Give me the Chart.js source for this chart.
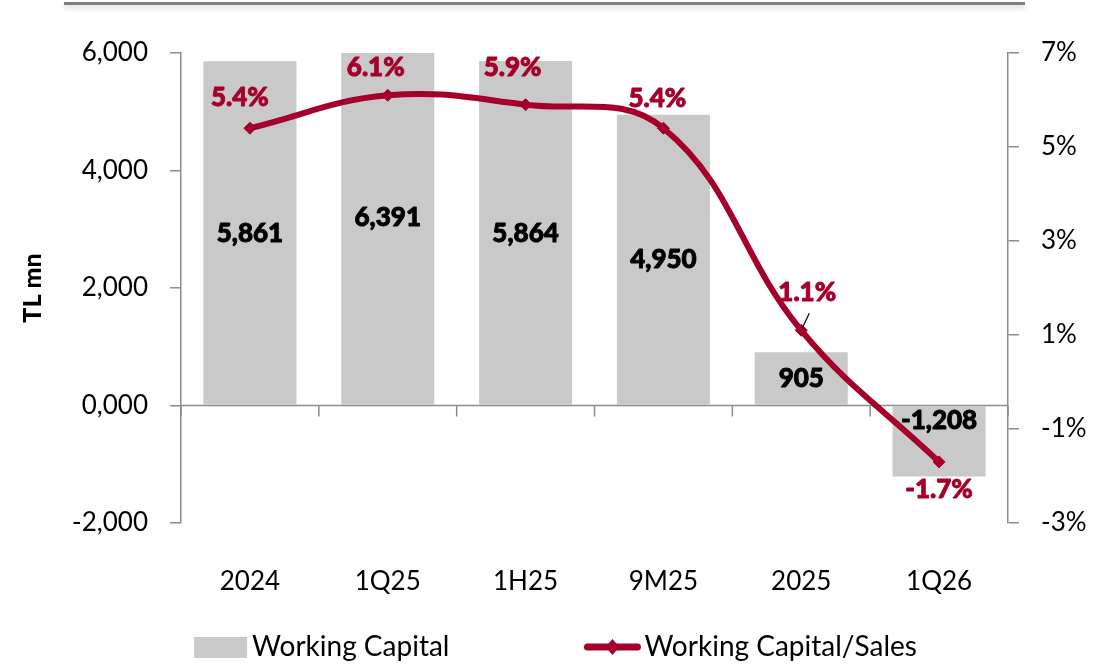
<!DOCTYPE html>
<html><head><meta charset="utf-8">
<script src="https://cdn.jsdelivr.net/npm/chart.js@4.4.1/dist/chart.umd.min.js"></script>
<style>
html,body{margin:0;padding:0;background:#fff;}
#wrap{position:relative;width:1115px;height:667px;overflow:hidden;}
#topline{position:absolute;left:64px;top:2px;width:961px;height:3px;background:#7f7f7f;box-shadow:0 3px 5px rgba(0,0,0,0.18);}
canvas{position:absolute;left:0;top:0;}
</style></head><body>
<div id="wrap"><div id="topline"></div><canvas id="c" width="1115" height="667"></canvas></div>
<script>
// ---- data ----
const categories = ['2024','1Q25','1H25','9M25','2025','1Q26'];
const workingCapital = [5861, 6391, 5864, 4950, 905, -1208];
const wcToSales = [5.4, 6.1, 5.9, 5.4, 1.1, -1.7];
const leftTickValues = [-2000, 0, 2000, 4000, 6000];
const rightTickValues = [-3, -1, 1, 3, 5, 7];
const seriesNames = ['Working Capital', 'Working Capital/Sales'];

// ---- style ----
const RED = '#A5002A';
const BAR = '#C9C9C9';
const AXIS = '#8C8C8C';
const FONT = 'Lato';
const barLabelMode = ['center','center','center','center','center','base'];
const lineLabelDx = [-10, -12, -13, -6, 6, 0];
const lineLabelDy = [-31, -28, -37, -30, -38, 28];

const fmtThousands = v => v === 0 ? '0,000' : Number(v).toLocaleString('en-US');

const zeroAxisPlugin = {
  id: 'zeroAxis',
  beforeDatasetsDraw(chart) {
    const {ctx, scales: {x, y}} = chart;
    const a = chart.chartArea;
    const y0 = y.getPixelForValue(0);
    ctx.save();
    ctx.strokeStyle = AXIS; ctx.lineWidth = 1.5;
    ctx.beginPath();
    ctx.moveTo(a.left, y0); ctx.lineTo(a.right, y0);
    const n = categories.length;
    for (let i = 0; i <= n; i++) {
      let bx;
      if (i === 0) bx = a.left; else if (i === n) bx = a.right;
      else bx = (x.getPixelForValue(i - 1) + x.getPixelForValue(i)) / 2;
      ctx.moveTo(bx, y0); ctx.lineTo(bx, y0 + 11);
    }
    ctx.stroke();
    ctx.restore();
  }
};

const labelsPlugin = {
  id: 'valueLabels',
  afterDatasetsDraw(chart) {
    const {ctx, scales: {y}} = chart;
    const barMeta = chart.getDatasetMeta(1);
    const lineMeta = chart.getDatasetMeta(0);
    ctx.save();
    ctx.textAlign = 'center'; ctx.textBaseline = 'middle';
    ctx.font = `900 26px ${FONT}`;
    ctx.lineWidth = 0.9; ctx.lineJoin = 'round';
    ctx.fillStyle = '#000'; ctx.strokeStyle = '#000';
    barMeta.data.forEach((bar, i) => {
      const v = workingCapital[i];
      let ty = barLabelMode[i] === 'base' ? y.getPixelForValue(0) + 15 : y.getPixelForValue(v / 2);
      ctx.fillText(fmtThousands(v), bar.x, ty);
      ctx.strokeText(fmtThousands(v), bar.x, ty);
    });
    ctx.fillStyle = RED; ctx.strokeStyle = RED;
    lineMeta.data.forEach((pt, i) => {
      const tx = pt.x + lineLabelDx[i], ty = pt.y + lineLabelDy[i];
      const t = wcToSales[i].toFixed(1) + '%';
      ctx.fillText(t, tx, ty);
      ctx.strokeText(t, tx, ty);
      if (i === 4) {
        ctx.save(); ctx.strokeStyle = '#000'; ctx.lineWidth = 1.2;
        ctx.beginPath(); ctx.moveTo(pt.x + 8, pt.y - 17); ctx.lineTo(pt.x + 1, pt.y - 2); ctx.stroke();
        ctx.restore();
      }
    });
    ctx.restore();
  }
};

const legendPlugin = {
  id: 'customLegend',
  afterDraw(chart) {
    const ctx = chart.ctx;
    const cy = 647;
    ctx.save();
    ctx.font = `28px ${FONT}`;
    ctx.textBaseline = 'middle'; ctx.textAlign = 'left';
    const w1 = 53 + 5 + ctx.measureText(seriesNames[0]).width;
    const w2 = 58 + 3 + ctx.measureText(seriesNames[1]).width;
    const gap = 134;
    let x0 = chart.width / 2 - 2 - (w1 + gap + w2) / 2;
    ctx.fillStyle = BAR;
    ctx.fillRect(x0, cy - 10, 53, 21);
    ctx.fillStyle = '#000';
    ctx.fillText(seriesNames[0], x0 + 58, cy);
    let x1 = x0 + w1 + gap;
    ctx.strokeStyle = RED; ctx.lineWidth = 7; ctx.lineCap = 'round';
    ctx.beginPath(); ctx.moveTo(x1 + 4, cy); ctx.lineTo(x1 + 54, cy); ctx.stroke();
    ctx.fillStyle = RED;
    ctx.beginPath();
    ctx.moveTo(x1 + 29, cy - 8); ctx.lineTo(x1 + 36, cy); ctx.lineTo(x1 + 29, cy + 8); ctx.lineTo(x1 + 22, cy);
    ctx.closePath(); ctx.fill();
    ctx.fillStyle = '#000';
    ctx.fillText(seriesNames[1], x1 + 61, cy);
    ctx.restore();
  }
};

new Chart(document.getElementById('c'), {
  data: {
    labels: categories,
    datasets: [
      {
        type: 'line', label: seriesNames[1], data: wcToSales, yAxisID: 'y1', order: 0,
        borderColor: RED, backgroundColor: RED, borderWidth: 6, tension: 0.4,
        pointStyle: 'rectRot', pointRadius: 6, pointBackgroundColor: RED, pointBorderColor: RED, pointBorderWidth: 1,
        clip: false
      },
      {
        type: 'bar', label: seriesNames[0], data: workingCapital, yAxisID: 'y', order: 1,
        backgroundColor: BAR, borderWidth: 0,
        categoryPercentage: 1.0, barPercentage: 0.675
      }
    ]
  },
  options: {
    responsive: false, animation: false, devicePixelRatio: 1,
    layout: { padding: { top: 53, left: 0, right: 0, bottom: 0 } },
    plugins: { legend: { display: false }, tooltip: { enabled: false } },
    scales: {
      x: {
        grid: { display: false }, border: { display: false },
        ticks: { color: '#000', font: { family: FONT, size: 26 }, padding: 35 },
        afterFit(s) { s.height = 144; }
      },
      y: {
        position: 'left', min: -2000, max: 6000,
        afterBuildTicks(s) { s.ticks = leftTickValues.map(v => ({ value: v })); },
        grid: { drawOnChartArea: false, drawTicks: true, tickLength: 11, color: AXIS, lineWidth: 1.5 },
        border: { display: true, color: AXIS, width: 1.5 },
        ticks: { color: '#000', font: { family: FONT, size: 26 }, padding: 22, callback: v => fmtThousands(v) },
        title: { display: true, text: 'TL mn', color: '#000', font: { family: FONT, size: 25, weight: '900' }, padding: { top: 18, bottom: 0 } },
        afterFit(s) { s.width = 181; }
      },
      y1: {
        position: 'right', min: -3, max: 7,
        afterBuildTicks(s) { s.ticks = rightTickValues.map(v => ({ value: v })); },
        grid: { drawOnChartArea: false, drawTicks: true, tickLength: 11, color: AXIS, lineWidth: 1.5 },
        border: { display: true, color: AXIS, width: 1.5 },
        ticks: { color: '#000', font: { family: FONT, size: 26 }, padding: 22, callback: v => v + '%' },
        afterFit(s) { s.width = 107; }
      }
    }
  },
  plugins: [zeroAxisPlugin, labelsPlugin, legendPlugin]
});
</script>
</body></html>
